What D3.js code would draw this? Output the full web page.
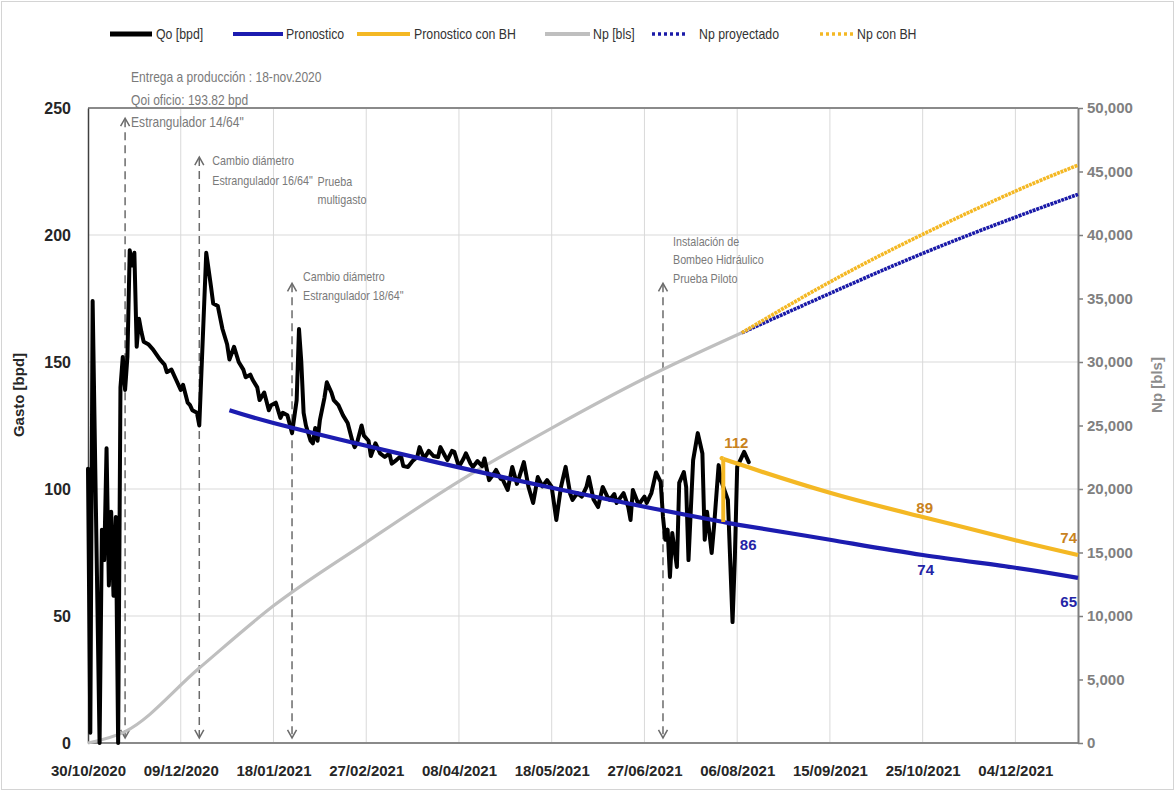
<!DOCTYPE html>
<html>
<head>
<meta charset="utf-8">
<script src="https://cdn.jsdelivr.net/npm/d3@7"></script>
<style>
  body { margin: 0; background: #ffffff; }
  svg { display: block; }
</style>
</head>
<body>
<svg id="chart" width="1176" height="792"></svg>
<script>
// ---- data ---------------------------------------------------------------
const xTickLabels = ["30/10/2020","09/12/2020","18/01/2021","27/02/2021","08/04/2021",
  "18/05/2021","27/06/2021","06/08/2021","15/09/2021","25/10/2021","04/12/2021"];
const xDomain = ["2020-10-30", "2021-12-31"];
const gastoTicks = [0, 50, 100, 150, 200, 250];
const npTicks = [0, 5000, 10000, 15000, 20000, 25000, 30000, 35000, 40000, 45000, 50000];

// daily oil rate Qo [bpd]
const qoSeries = [
  ["2020-10-30",108],["2020-10-31",4],["2020-11-01",174],["2020-11-04",0],["2020-11-05",84],
  ["2020-11-06",72],["2020-11-07",116],["2020-11-08",62],["2020-11-09",91],["2020-11-10",58],
  ["2020-11-11",89],["2020-11-12",0],["2020-11-13",140],["2020-11-14",152],["2020-11-15",139],
  ["2020-11-16",152],["2020-11-17",194],["2020-11-18",188],["2020-11-19",193],["2020-11-20",156],
  ["2020-11-21",167],["2020-11-22",162],["2020-11-23",158],["2020-11-25",157],["2020-11-27",155],
  ["2020-11-30",151],["2020-12-02",149],["2020-12-03",146],["2020-12-05",147],["2020-12-07",143],
  ["2020-12-09",139],["2020-12-10",141],["2020-12-12",134],["2020-12-13",133],["2020-12-14",131],
  ["2020-12-16",130],["2020-12-17",125],["2020-12-20",193],["2020-12-22",180],["2020-12-23",173],
  ["2020-12-25",172],["2020-12-27",163],["2020-12-29",157],["2020-12-30",151],["2021-01-01",156],
  ["2021-01-03",150],["2021-01-05",147],["2021-01-06",144],["2021-01-08",145],["2021-01-09",143],
  ["2021-01-11",140],["2021-01-12",135],["2021-01-14",138],["2021-01-16",131],["2021-01-17",133],
  ["2021-01-19",134],["2021-01-21",128],["2021-01-22",130],["2021-01-24",129],["2021-01-26",122],
  ["2021-01-28",135],["2021-01-29",163],["2021-01-30",150],["2021-01-31",130],["2021-02-01",125],
  ["2021-02-03",119],["2021-02-04",118],["2021-02-05",124],["2021-02-06",119],["2021-02-07",127],
  ["2021-02-09",136],["2021-02-10",142],["2021-02-12",138],["2021-02-13",135],["2021-02-15",133],
  ["2021-02-17",129],["2021-02-19",126],["2021-02-21",119],["2021-02-22",116.5],["2021-02-23",118],
  ["2021-02-25",125],["2021-02-26",121],["2021-02-28",119],["2021-03-01",113],["2021-03-03",118],
  ["2021-03-05",114],["2021-03-07",112.6],["2021-03-09",114],["2021-03-10",110],["2021-03-12",111.4],
  ["2021-03-14",113],["2021-03-15",109],["2021-03-17",108.7],["2021-03-19",111],["2021-03-21",112.6],
  ["2021-03-22",116.5],["2021-03-24",112],["2021-03-26",115],["2021-03-28",113],["2021-03-30",112.6],
  ["2021-03-31",116.5],["2021-04-02",113],["2021-04-03",111.4],["2021-04-05",115],["2021-04-06",114.6],
  ["2021-04-08",108.7],["2021-04-10",112],["2021-04-11",114],["2021-04-13",110],["2021-04-14",108.7],
  ["2021-04-16",111],["2021-04-18",109],["2021-04-19",112],["2021-04-21",103.5],["2021-04-23",106],
  ["2021-04-24",107.5],["2021-04-26",104],["2021-04-27",103.5],["2021-04-29",99.6],["2021-05-01",108.7],
  ["2021-05-03",102],["2021-05-04",104.7],["2021-05-06",110.6],["2021-05-08",100.8],["2021-05-10",94.5],
  ["2021-05-12",104.7],["2021-05-14",101],["2021-05-16",103.5],["2021-05-18",100.8],["2021-05-20",87.8],
  ["2021-05-22",100.8],["2021-05-24",108.7],["2021-05-26",98],["2021-05-27",95.7],["2021-05-29",98.4],
  ["2021-05-31",97],["2021-06-02",100.8],["2021-06-03",104.7],["2021-06-05",96],["2021-06-07",92.9],
  ["2021-06-09",100.8],["2021-06-11",97],["2021-06-12",95.7],["2021-06-14",98],["2021-06-15",94.5],
  ["2021-06-18",98.4],["2021-06-20",93],["2021-06-21",87.8],["2021-06-22",99.6],["2021-06-24",95],
  ["2021-06-25",94.5],["2021-06-27",97],["2021-06-28",94.5],["2021-06-30",98.4],["2021-07-02",106.5],
  ["2021-07-04",102.8],["2021-07-05",89],["2021-07-06",80],["2021-07-07",84],["2021-07-08",65.4],
  ["2021-07-09",82.7],["2021-07-10",76],["2021-07-11",69.3],["2021-07-12",102.4],["2021-07-14",106.7],
  ["2021-07-15",100.8],["2021-07-16",72],["2021-07-18",111.4],["2021-07-20",122],["2021-07-21",118],
  ["2021-07-22",114],["2021-07-23",80],["2021-07-24",91],["2021-07-26",74.8],["2021-07-27",85],
  ["2021-07-29",109.4],["2021-07-30",103.5],["2021-08-02",95.7],["2021-08-04",47.6],["2021-08-05",73],
  ["2021-08-06",108.7],["2021-08-09",114.6],["2021-08-11",110.6]
];

// forecast decline curves [bpd]
const pronostico = [
  ["2020-12-30",131],["2021-01-18",126],["2021-02-27",117],["2021-04-08",108.5],["2021-05-18",100.5],
  ["2021-06-27",93],["2021-07-31",87],["2021-08-06",86],["2021-09-15",80],["2021-10-25",74],
  ["2021-12-04",69],["2021-12-31",65]
];
// first point is the step-up start on the base forecast
const pronosticoBH = [
  ["2021-07-31",87],["2021-07-31",112],["2021-08-06",110],["2021-09-15",98.5],["2021-10-25",89],
  ["2021-12-04",79.8],["2021-12-31",74]
];

// cumulative production Np [bls]
const npHistorico = [
  ["2020-10-30",0],["2020-11-15",900],["2020-12-17",5900],["2021-01-18",10800],["2021-02-27",15800],
  ["2021-04-08",20600],["2021-05-18",24800],["2021-06-27",28700],["2021-08-08",32300]
];
const npProyectado = [
  ["2021-08-08",32300],["2021-09-15",35400],["2021-10-25",38550],["2021-12-04",41400],["2021-12-31",43200]
];
const npConBH = [
  ["2021-08-08",32300],["2021-09-15",36300],["2021-10-25",40050],["2021-12-04",43450],["2021-12-31",45500]
];

// labelled forecast values
const labelsPronostico = [["2021-08-06",86],["2021-10-25",74],["2021-12-31",65]];
const labelsPronosticoBH = [["2021-07-31",112],["2021-10-25",89],["2021-12-31",74]];

// well events (arrow date, arrow top in bpd, first text baseline in bpd, text lines)
const eventos = [
  { fecha: "2020-11-15", tope: 246, texto: 260.2, lineas: ["Entrega a producción : 18-nov.2020", "Qoi oficio: 193.82 bpd", "Estrangulador 14/64\""] },
  { fecha: "2020-12-17", tope: 230.7, texto: 227.6, lineas: ["Cambio diámetro", "Estrangulador 16/64\""] },
  { fecha: "2021-01-26", tope: 181, texto: 181.9, lineas: ["Cambio diámetro", "Estrangulador 18/64\""] },
  { fecha: "2021-07-05", tope: 181, texto: 195.7, lineas: ["Instalación de", "Bombeo Hidráulico", "Prueba Piloto"] }
];
const notaPrueba = { fecha: "2021-02-06", texto: 219.3, lineas: ["Prueba", "multigasto"] };

// ---- chart ---------------------------------------------------------------
const parseISO = d3.utcParse("%Y-%m-%d");
const parseTick = d3.utcParse("%d/%m/%Y");
const sans = "'Liberation Sans',Arial,sans-serif";

const C = {
  qo: "#000000", pron: "#1c1cb0", bh: "#f4b824", np: "#bfbfbf", npProy: "#1a1aa8",
  grid: "#d9d9d9", ann: "#7a7a7a", labBH: "#c8821e", labPron: "#2424a6"
};

const svg = d3.select("#chart");
const L = 88, R = 1078, T = 108, B = 743;

const x = d3.scaleUtc().domain(xDomain.map(parseISO)).range([L, R]);
const yL = d3.scaleLinear().domain([0, 250]).range([B, T]);
const yR = d3.scaleLinear().domain([0, 50000]).range([B, T]);

// narrow text: a regular face squeezed horizontally
function narrowText(parent, x0, y0, lines, size, lead, squeeze, fill) {
  const t = parent.append("text")
    .attr("transform", `translate(${x0},${y0}) scale(${squeeze},1)`)
    .attr("font-family", sans).attr("font-size", size).attr("fill", fill);
  lines.forEach((ln, j) => t.append("tspan").attr("x", 0).attr("y", j * lead).text(ln));
  return t;
}

// outer frame
svg.append("rect").attr("x", 1.5).attr("y", 1.5).attr("width", 1172).attr("height", 788)
  .attr("fill", "none").attr("stroke", "#d4d4d4").attr("stroke-width", 1);

// gridlines
const xTickDates = xTickLabels.map(parseTick);
svg.append("g").selectAll("line").data(gastoTicks.filter(v => v > 0 && v < 250)).join("line")
  .attr("x1", L).attr("x2", R).attr("y1", d => yL(d)).attr("y2", d => yL(d))
  .attr("stroke", C.grid).attr("stroke-width", 1);
svg.append("g").selectAll("line").data(xTickDates.slice(1)).join("line")
  .attr("x1", d => x(d)).attr("x2", d => x(d)).attr("y1", T).attr("y2", B)
  .attr("stroke", C.grid).attr("stroke-width", 1);

// frame lines
svg.append("line").attr("x1", L).attr("x2", R).attr("y1", T).attr("y2", T)
  .attr("stroke", "#8a8a8a").attr("stroke-width", 2);
svg.append("line").attr("x1", L).attr("x2", R).attr("y1", B).attr("y2", B)
  .attr("stroke", "#8a8a8a").attr("stroke-width", 2);

// axes
const gx = svg.append("g").attr("transform", `translate(0,${B})`)
  .call(d3.axisBottom(x).tickValues(xTickDates).tickFormat((d, i) => xTickLabels[i]).tickSize(0).tickPadding(22));
gx.select(".domain").remove();
gx.selectAll("text").attr("font-family", sans).attr("font-weight", "bold").attr("font-size", 15).attr("fill", "#262626");

const gl = svg.append("g").attr("transform", `translate(${L},0)`)
  .call(d3.axisLeft(yL).tickValues(gastoTicks).tickSize(0).tickPadding(17));
gl.select(".domain").attr("stroke", "#404040").attr("stroke-width", 1.5);
gl.selectAll("text").attr("font-family", sans).attr("font-weight", "bold").attr("font-size", 16).attr("fill", "#262626");

const gr = svg.append("g").attr("transform", `translate(${R},0)`)
  .call(d3.axisRight(yR).tickValues(npTicks).tickFormat(d3.format(",")).tickSize(5).tickPadding(4).tickSizeOuter(0));
gr.select(".domain").attr("stroke", "#7f7f7f").attr("stroke-width", 2);
gr.selectAll(".tick line").attr("stroke", "#7f7f7f").attr("stroke-width", 1.5);
gr.selectAll("text").attr("font-family", sans).attr("font-weight", "bold").attr("font-size", 15).attr("fill", "#808080");

// axis titles
svg.append("text").attr("transform", "translate(24,395) rotate(-90)").attr("text-anchor", "middle")
  .attr("font-family", sans).attr("font-weight", "bold").attr("font-size", 15).attr("fill", "#262626")
  .text("Gasto [bpd]");
svg.append("text").attr("transform", "translate(1162,385) rotate(-90)").attr("text-anchor", "middle")
  .attr("font-family", sans).attr("font-weight", "bold").attr("font-size", 15).attr("fill", "#8c8c8c")
  .text("Np [bls]");

// event arrows (dashed, open heads at both ends)
const arrowG = svg.append("g");
eventos.forEach(ev => {
  const ax = x(parseISO(ev.fecha));
  const yTop = yL(ev.tope), yBot = yL(2);
  arrowG.append("line").attr("x1", ax).attr("x2", ax).attr("y1", yTop + 1).attr("y2", yBot - 1)
    .attr("stroke", "#6b6b6b").attr("stroke-width", 1.5).attr("stroke-dasharray", "8,5");
  arrowG.append("path").attr("d", `M${ax - 4.5},${yTop + 8} L${ax},${yTop} L${ax + 4.5},${yTop + 8}`)
    .attr("fill", "none").attr("stroke", "#6b6b6b").attr("stroke-width", 1.5);
  arrowG.append("path").attr("d", `M${ax - 4.5},${yBot - 8} L${ax},${yBot} L${ax + 4.5},${yBot - 8}`)
    .attr("fill", "none").attr("stroke", "#6b6b6b").attr("stroke-width", 1.5);
});

// line generators
const px = d => x(parseISO(d[0]));
const lineL = d3.line().x(px).y(d => yL(d[1]));
const smoothL = d3.line().x(px).y(d => yL(d[1])).curve(d3.curveNatural);
const smoothR = d3.line().x(px).y(d => yR(d[1])).curve(d3.curveMonotoneX);
const naturalR = d3.line().x(px).y(d => yR(d[1])).curve(d3.curveNatural);

// cumulative production
svg.append("path").datum(npHistorico).attr("d", smoothR)
  .attr("fill", "none").attr("stroke", C.np).attr("stroke-width", 3.2);

// Qo history
svg.append("path").datum(qoSeries).attr("d", lineL)
  .attr("fill", "none").attr("stroke", C.qo).attr("stroke-width", 4)
  .attr("stroke-linejoin", "round").attr("stroke-linecap", "round");

// forecasts
svg.append("path").datum(pronostico).attr("d", smoothL)
  .attr("fill", "none").attr("stroke", C.pron).attr("stroke-width", 4.2);
svg.append("path").datum(pronosticoBH.slice(0, 2)).attr("d", lineL)
  .attr("fill", "none").attr("stroke", C.bh).attr("stroke-width", 4);
svg.append("path").datum(pronosticoBH.slice(1)).attr("d", smoothL)
  .attr("fill", "none").attr("stroke", C.bh).attr("stroke-width", 4.2).attr("stroke-linejoin", "round");

// projected cumulative
svg.append("path").datum(npProyectado).attr("d", naturalR)
  .attr("fill", "none").attr("stroke", C.npProy).attr("stroke-width", 3.6).attr("stroke-dasharray", "3,0.8");
svg.append("path").datum(npConBH).attr("d", naturalR)
  .attr("fill", "none").attr("stroke", C.bh).attr("stroke-width", 3.6).attr("stroke-dasharray", "3,0.8");

// value labels
const offPron = [[11, 25, "middle"], [3, 20, "middle"], [-1, 29, "end"]];
const offBH = [[13, -11, "middle"], [2, -4, "middle"], [-1, -12, "end"]];
svg.append("g").selectAll("text").data(labelsPronostico).join("text")
  .attr("x", (d, i) => px(d) + offPron[i][0])
  .attr("y", (d, i) => yL(d[1]) + offPron[i][1])
  .attr("text-anchor", (d, i) => offPron[i][2])
  .attr("font-family", sans).attr("font-weight", "bold").attr("font-size", 15).attr("fill", C.labPron)
  .text(d => d[1]);
svg.append("g").selectAll("text").data(labelsPronosticoBH).join("text")
  .attr("x", (d, i) => px(d) + offBH[i][0])
  .attr("y", (d, i) => yL(d[1]) + offBH[i][1])
  .attr("text-anchor", (d, i) => offBH[i][2])
  .attr("font-family", sans).attr("font-weight", "bold").attr("font-size", 15).attr("fill", C.labBH)
  .text(d => d[1]);

// event notes
const notes = svg.append("g");
const spacing = [22.5, 20, 19, 18.5];
const sizes = [14, 12.5, 12.5, 12.5];
const dxs = [6, 13, 11, 10];
eventos.forEach((ev, i) => {
  narrowText(notes, px([ev.fecha]) + dxs[i], yL(ev.texto), ev.lineas, sizes[i], spacing[i], 0.86, C.ann);
});
narrowText(notes, px([notaPrueba.fecha]), yL(notaPrueba.texto), notaPrueba.lineas, 12.5, 18, 0.86, C.ann);

// legend
const legend = [
  { name: "Qo [bpd]", color: C.qo, w: 5, dash: null, x0: 110, x1: 152, tx: 156 },
  { name: "Pronostico", color: C.pron, w: 4, dash: null, x0: 233, x1: 283, tx: 286 },
  { name: "Pronostico con BH", color: C.bh, w: 4, dash: null, x0: 357, x1: 410, tx: 414 },
  { name: "Np [bls]", color: C.np, w: 4, dash: null, x0: 545, x1: 590, tx: 593 },
  { name: "Np proyectado", color: C.npProy, w: 3.5, dash: "3,3", x0: 652, x1: 688, tx: 699 },
  { name: "Np con BH", color: C.bh, w: 3.5, dash: "3,3", x0: 820, x1: 853, tx: 857 }
];
const lg = svg.append("g");
legend.forEach(it => {
  lg.append("line").attr("x1", it.x0).attr("x2", it.x1).attr("y1", 34).attr("y2", 34)
    .attr("stroke", it.color).attr("stroke-width", it.w).attr("stroke-dasharray", it.dash);
  narrowText(lg, it.tx, 39, [it.name], 14, 0, 0.88, "#333333");
});
</script>
</body>
</html>
